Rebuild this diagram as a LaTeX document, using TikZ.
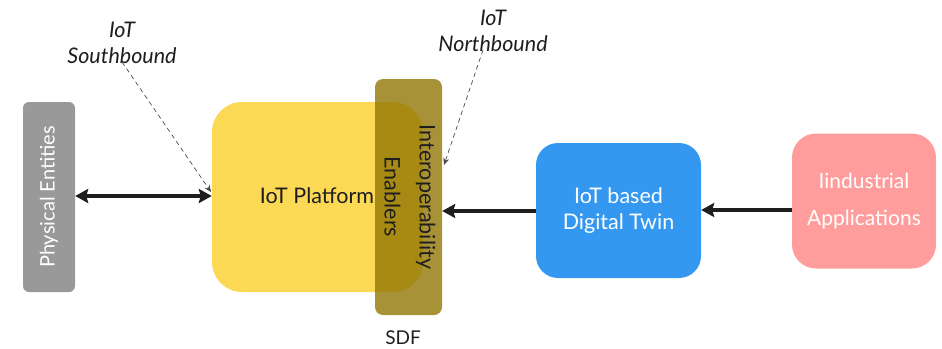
\documentclass[tikz,border=0pt]{standalone}
\usepackage{fontspec}
\setmainfont{Lato}
\usetikzlibrary{arrows.meta}
\definecolor{gr}{RGB}{153,153,153}
\definecolor{yel}{RGB}{251,217,85}
\definecolor{sdf}{RGB}{145,117,3}
\definecolor{blu}{RGB}{52,152,240}
\definecolor{pnk}{RGB}{255,157,157}
\definecolor{ink}{RGB}{30,30,30}
\tikzset{
  box/.style={draw=none, inner sep=0pt, align=center},
  mainarrow/.style={line width=4pt, draw=ink, -{Stealth[length=13pt,width=14pt,inset=2pt]}},
  dasharrow/.style={line width=0.7pt, draw=ink!80, dash pattern=on 4.5pt off 3.5pt, -{Stealth[length=7pt,width=6pt]}},
  lbl/.style={font=\fontsize{21.5}{26}\selectfont\itshape, text=ink, align=center, inner sep=0pt},
}
\begin{document}
\begin{tikzpicture}[x=1pt,y=-1pt]
\useasboundingbox (0,0) rectangle (942,348);
% Physical entities
\node[box, fill=gr, rounded corners=6pt, minimum width=52pt, minimum height=190pt] (phys) at (49,197) {};
\node[rotate=90, text=white, font=\fontsize{20}{20}\selectfont, inner sep=0pt] (physt) at (49,197) {Physical Entities};
% IoT platform
\node[box, fill=yel, rounded corners=30pt, minimum width=211pt, minimum height=190pt] (plat) at (317.5,197) {};
\node[font=\fontsize{21.5}{20}\selectfont, text=ink, inner sep=0pt] (platt) at (317,196) {IoT Platform};
% SDF bar
\node[box, fill=sdf, fill opacity=0.79, rounded corners=8pt, minimum width=67pt, minimum height=236pt] (sdfb) at (408.5,197) {};
\node[rotate=-90, font=\fontsize{21.5}{35}\selectfont, text=ink, align=center, inner sep=0pt] (sdft) at (410,197) {Interoperability\\Enablers};
\node[font=\fontsize{19}{20}\selectfont, text=ink, inner sep=0pt] (sdfl) at (403,338) {SDF};
% Digital Twin
\node[box, fill=blu, rounded corners=22pt, minimum width=165pt, minimum height=135pt, text=white, font=\fontsize{21.5}{26}\selectfont] (dt) at (618.5,210.5) {IoT based\\Digital Twin};
% Industrial apps
\node[box, fill=pnk, rounded corners=24pt, minimum width=144pt, minimum height=135pt, text=white, font=\fontsize{21}{37}\selectfont] (app) at (864,201) {Iindustrial\\Applications};
% arrows
\draw[mainarrow, {Stealth[length=13pt,width=14pt,inset=2pt]}-{Stealth[length=13pt,width=14pt,inset=2pt]}] (phys.east |- 0,196) -- (plat.west |- 0,196);
\draw[mainarrow] (dt.west |- 0,211) -- (sdfb.east |- 0,211);
\draw[mainarrow] (app.west |- 0,210) -- (dt.east |- 0,210);
% labels
\node[lbl] (sb) at (122,43) {IoT\\Southbound};
\node[lbl] (nb) at (493,31) {IoT\\Northbound};
\coordinate (sbend) at (211,192);
\coordinate (nbend) at (444,165);
\draw[dasharrow] (sb.south) ++(0,-2) -- (sbend);
\draw[dasharrow] (nb.south) ++(-10,-2) -- (nbend);
\end{tikzpicture}
\end{document}
